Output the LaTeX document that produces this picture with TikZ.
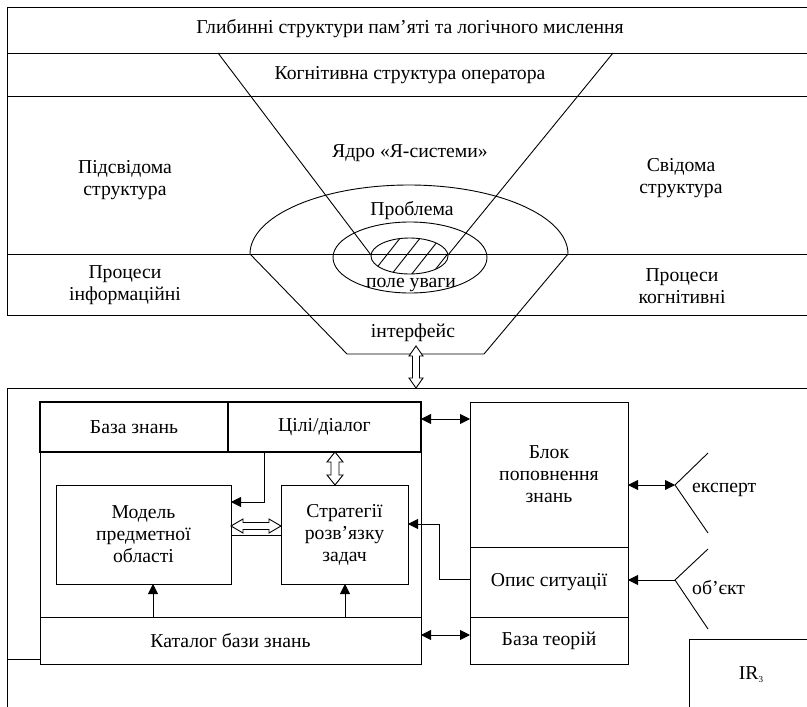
\documentclass[tikz,border=0pt]{standalone}
\usepackage{fontspec}
\setmainfont{Liberation Serif}
\usetikzlibrary{arrows.meta,calc}
\newcommand\dfont{\fontsize{19.7}{22}\selectfont}
\tikzset{
  lw/.style={line width=0.9pt},
  txt/.style={font=\dfont, align=center, inner sep=0pt},
  box/.style={draw, lw, txt, outer sep=0pt, inner sep=0pt},
  arr/.style={lw, -{Triangle[length=10pt,width=10pt]}},
  darr/.style={lw, {Triangle[length=10pt,width=10pt]}-{Triangle[length=10pt,width=10pt]}},
}
\newcommand\hollowV[4]{% top, bottom, head half width, shaft half width
  \draw[lw, fill=white] let \p1=(#1), \p2=(#2) in
   (\x1,\y1) -- (\x1+#3,\y1-10pt) -- (\x1+#4,\y1-10pt) -- (\x1+#4,\y2+10pt) -- (\x1+#3,\y2+10pt)
   -- (\x1,\y2) -- (\x1-#3,\y2+10pt) -- (\x1-#4,\y2+10pt) -- (\x1-#4,\y1-10pt) -- (\x1-#3,\y1-10pt) -- cycle;}
\newcommand\hollowH[4]{% left, right, head half height, shaft half height
  \draw[lw, fill=white] let \p1=(#1), \p2=(#2) in
   (\x1,\y1) -- (\x1+12pt,\y1+#3) -- (\x1+12pt,\y1+#4) -- (\x2-12pt,\y1+#4) -- (\x2-12pt,\y1+#3)
   -- (\x2,\y1) -- (\x2-12pt,\y1-#3) -- (\x2-12pt,\y1-#4) -- (\x1+12pt,\y1-#4) -- (\x1+12pt,\y1-#3) -- cycle;}
\begin{document}
\begin{tikzpicture}[x=1pt,y=-1pt]
\useasboundingbox (0,0) rectangle (807,707);

% ---------- upper part ----------
\draw[lw] (807,7) -- (7,7) -- (7,315) -- (807,315);
\draw[lw] (7,53) -- (807,53);
\draw[lw] (7,96) -- (807,96);
\draw[lw] (7,254) -- (807,254);

% cone
\coordinate (cl) at (218,53);
\coordinate (cr) at (613,53);
\coordinate (el) at (371,255);
\coordinate (er) at (448,255);
\draw[lw] (cl) -- (el);
\draw[lw] (cr) -- (er);

% outer half ellipse
\draw[lw] (250,254) arc[start angle=180, end angle=360, x radius=159, y radius=69];
% middle ellipse
\draw[lw] (410,257.5) ellipse[x radius=77, y radius=35.5];
% inner hatched ellipse
\begin{scope}
  \clip (409.5,256) ellipse[x radius=38.5, y radius=18];
  \foreach \xo in {386,406,426,446}
    \draw[lw] (\xo-30,256+38) -- (\xo+30,256-38);
\end{scope}
\draw[lw] (409.5,256) ellipse[x radius=38.5, y radius=18];

% trapezoid (interface)
\draw[lw] (250,254) -- (347,354) -- (484,354) -- (568,254);

% texts
\node[txt] (t1) at (410,29) {Глибинні структури пам’яті та логічного мислення};
\node[txt] (t2) at (410,75) {Когнітивна структура оператора};
\node[txt] (t3) at (410,153) {Ядро «Я-системи»};
\node[txt] (t4) at (125,180) {Підсвідома\\структура};
\node[txt] (t5) at (681,178) {Свідома\\структура};
\node[txt] (t6) at (412,211) {Проблема};
\node[txt] (t7) at (411,284.5) {поле уваги};
\node[txt] (t8) at (125,285) {Процеси\\інформаційні};
\node[txt] (t9) at (682,286) {Процеси\\когнітивні};
\node[txt] (t10) at (413,333) {інтерфейс};

% ---------- lower part ----------
\draw[lw] (807,388) -- (7,388) -- (7,707);
\coordinate (iftop) at (416,346);
\coordinate (ifbot) at (416,388);
\hollowV{iftop}{ifbot}{7pt}{3.5pt}

\node[box, minimum width=381pt, minimum height=262pt] (kb) at (230.5,533) {};
\node[box, line width=1.2pt, minimum width=188pt, minimum height=50pt] (bz) at (134,427) {База знань};
\node[box, line width=1.2pt, minimum width=193pt, minimum height=50pt] (cd) at (324.5,427) {Цілі/діалог};
\node[box, minimum width=381pt, minimum height=47pt] (kat) at (230.5,640.5) {Каталог бази знань};
\node[box, minimum width=175pt, minimum height=99pt] (model) at (143.5,534.5) {Модель\\предметної\\області};
\node[box, minimum width=127pt, minimum height=99pt] (strat) at (344.5,534.5) {Стратегії\\розв’язку\\задач};
\node[box, minimum width=158pt, minimum height=145pt] (blok) at (549,474.5) {Блок\\поповнення\\знань};
\node[box, minimum width=158pt, minimum height=70pt] (opys) at (549,582) {Опис ситуації};
\node[box, minimum width=158pt, minimum height=47pt] (bt) at (549,640.5) {База теорій};

% IR3
\draw[lw] (807,639) -- (689,639) -- (689,707);
\node[txt] (ir) at (751,675) {IR\raisebox{-3pt}{\fontsize{9}{9}\selectfont 3}};

% connectors inside knowledge base
\draw[arr] (264,0 |- cd.south) -- (264,502) -- (model.east |- 0,502);
\hollowV{335,0 |- cd.south}{335,0 |- strat.north}{8pt}{4pt}
\hollowH{model.east |- 0,526}{strat.west |- 0,526}{7pt}{3.5pt}
\draw[lw] (model.east |- 0,535) -- (strat.west |- 0,535);
\draw[arr] (153,0 |- kat.north) -- (153,0 |- model.south);
\draw[arr] (345,0 |- kat.north) -- (345,0 |- strat.south);
\coordinate (fl) at (7,659);
\draw[lw] (fl) -- (kb.west |- fl);

% connectors to the right block
\draw[darr] (cd.east |- 0,419) -- (blok.west |- 0,419);
\draw[darr] (kat.east |- 0,635) -- (bt.west |- 0,635);
\draw[arr] (opys.west |- 0,579) -- (439,579) -- (439,524) -- (strat.east |- 0,524);

% expert / object
\coordinate (exp) at (675,485);
\coordinate (obj) at (675,580);
\draw[darr] (blok.east |- exp) -- (exp);
\draw[lw] (708,453) -- (exp) -- (708,533);
\draw[arr] (obj) -- (opys.east |- obj);
\draw[lw] (708,549) -- (obj) -- (708,629);
\node[txt, anchor=west] (ex) at (692,490) {експерт};
\node[txt, anchor=west] (ob) at (692,588) {об’єкт};
\end{tikzpicture}
\end{document}
